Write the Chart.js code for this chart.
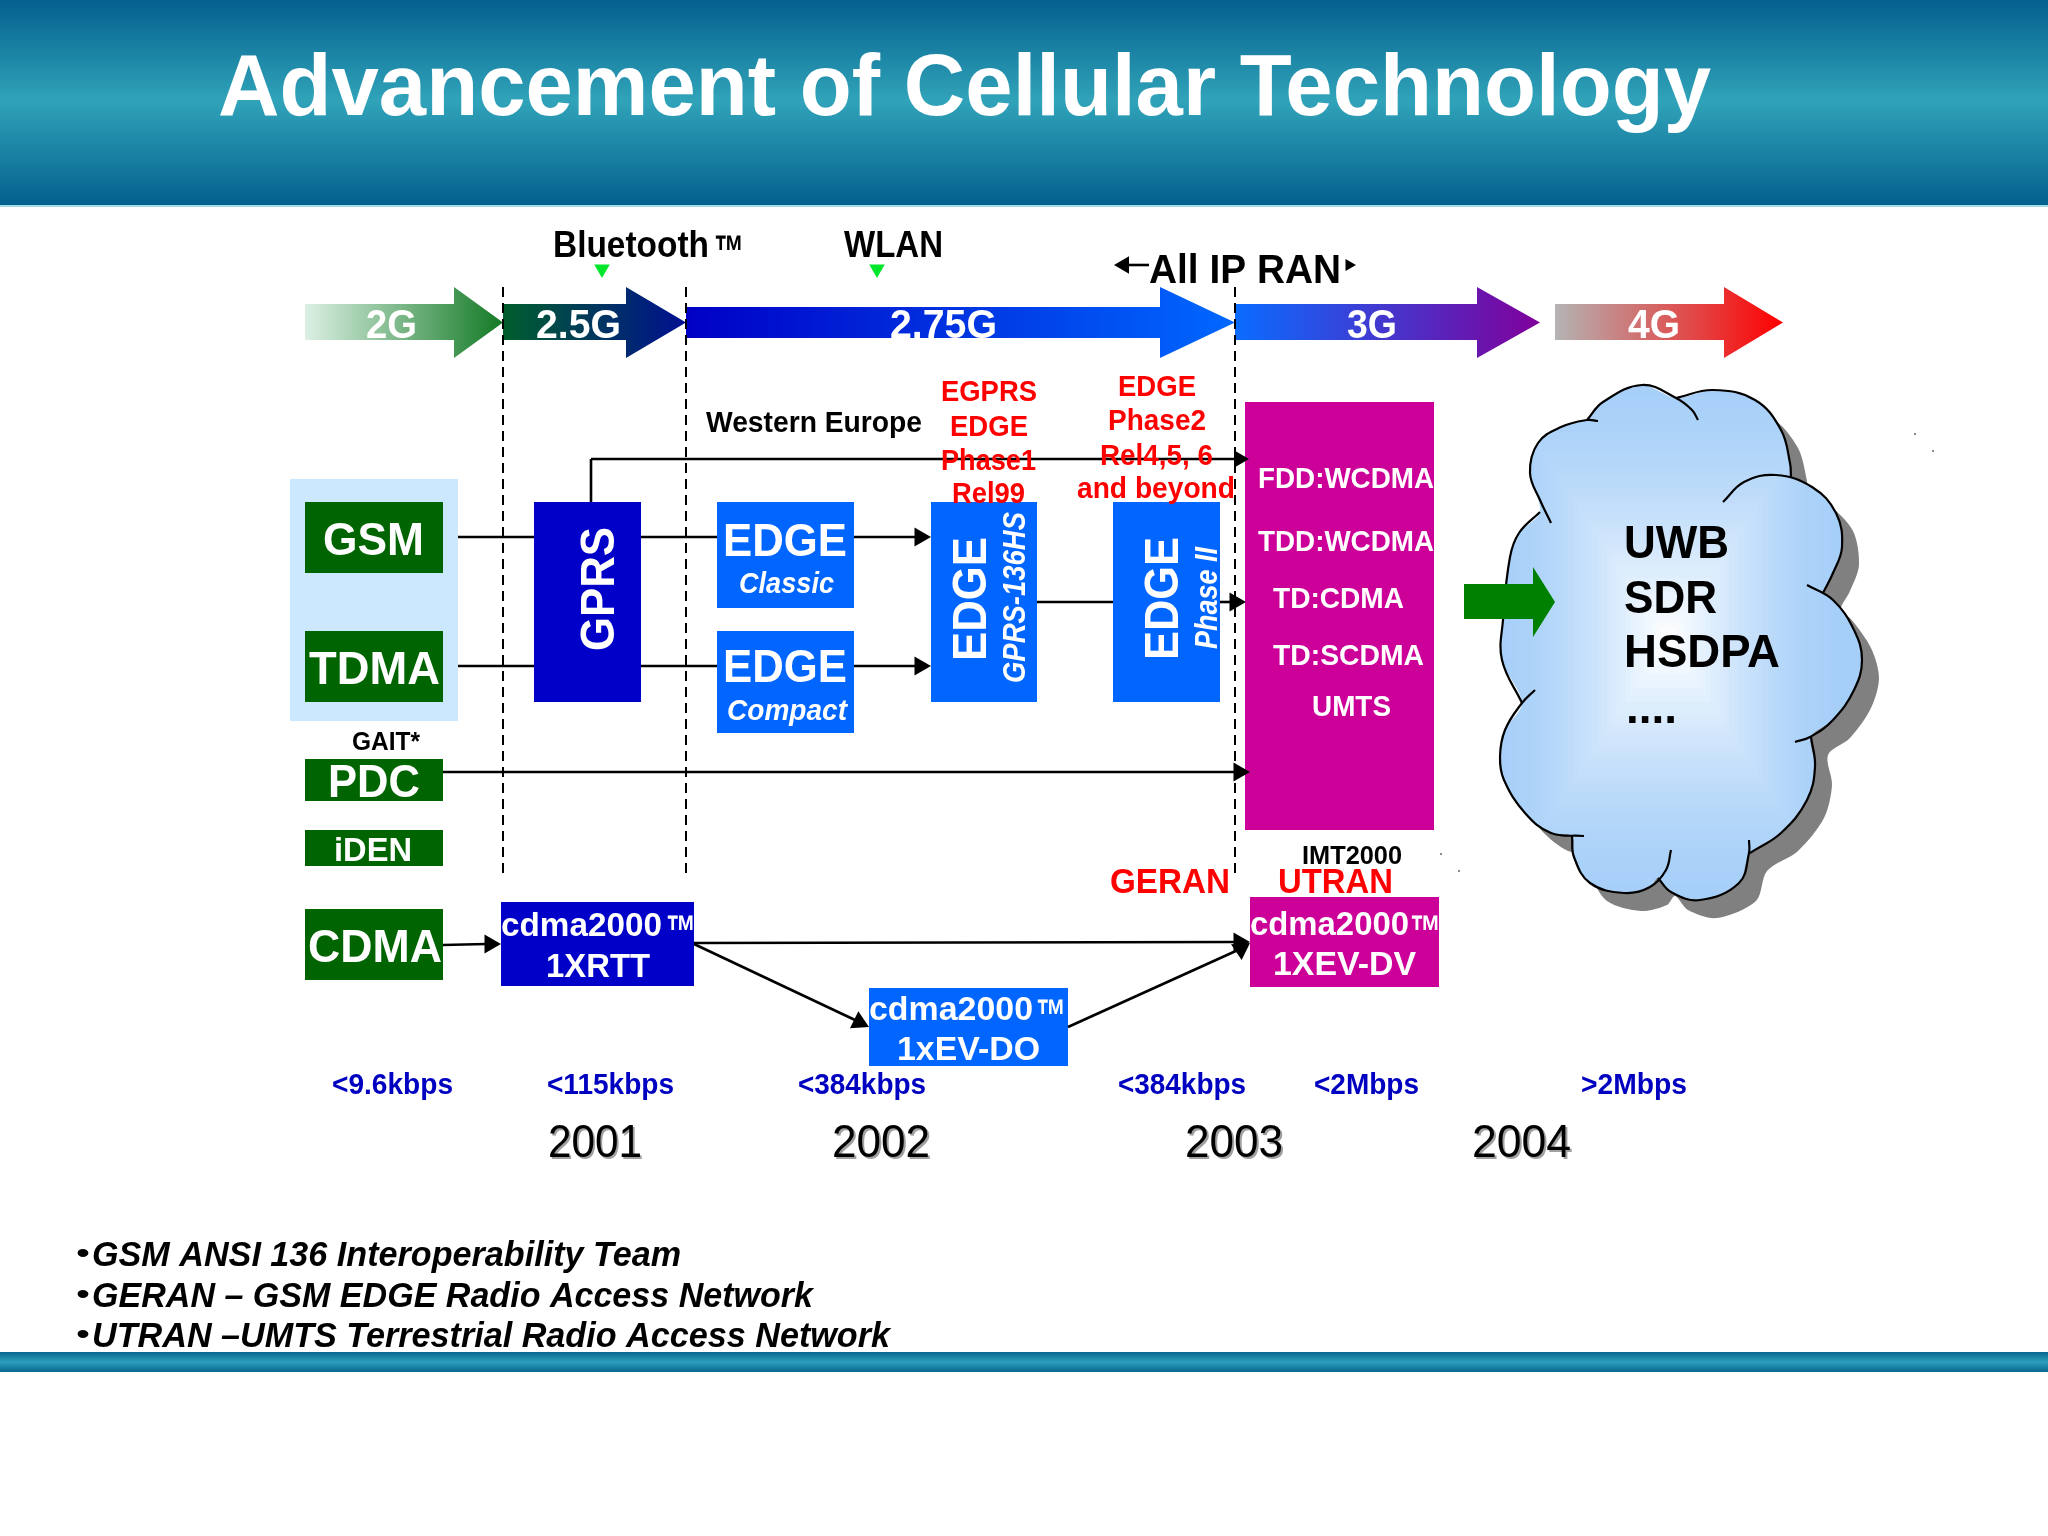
<!DOCTYPE html>
<html>
<head>
<meta charset="utf-8">
<title>Advancement of Cellular Technology</title>
<script src="https://cdn.jsdelivr.net/npm/chart.js@4/dist/chart.umd.min.js"></script>
<style>
  html, body { margin: 0; padding: 0; background: #fff; overflow: hidden; }
  canvas { display: block; }
</style>
</head>
<body>
<canvas id="slide" width="2048" height="1536"></canvas>
<script>
// All positions below are values on the two hidden linear axes (0-2048, 0-1536)

// generation arrows along the top
const eraNames = ['2G', '2.5G', '2.75G', '3G', '4G'];
const eraLeft = [305, 503, 686, 1235, 1555];
const eraHeadBase = [454, 626, 1160, 1477, 1724];
const eraTip = [503, 686, 1235, 1540, 1783];
const eraShaftTop = [304, 304, 307, 304, 304];
const eraShaftBottom = [340, 340, 338, 340, 340];
const eraHeadTop = [287, 287, 287, 287, 287];
const eraHeadBottom = [358, 358, 358, 358, 358];
const eraTextLeft = [366, 536, 890, 1347, 1628];
const eraTextRight = [417, 621, 997, 1397, 1680];
const eraColorFrom = ['#dcf0e4', '#005f2c', '#0000c4', '#0a6cff', '#b4b4b4'];
const eraColorTo = ['#137a25', '#000f90', '#0068ff', '#80009a', '#ff0000'];

// technology boxes
const boxLeft = [290, 305, 305, 305, 305, 305, 534, 717, 717, 931, 1113, 1245, 501, 869, 1250];
const boxRight = [458, 443, 443, 443, 443, 443, 641, 854, 854, 1037, 1220, 1434, 694, 1068, 1439];
const boxTop = [479, 502, 631, 759, 830, 909, 502, 502, 631, 502, 502, 402, 902, 988, 897];
const boxBottom = [721, 573, 702, 801, 866, 980, 702, 608, 733, 702, 702, 830, 986, 1066, 987];
const boxColors = ['#cce8ff', '#006400', '#006400', '#006400', '#006400', '#006400', '#0000c8', '#0066ff',
  '#0066ff', '#0066ff', '#0066ff', '#cc0099', '#0000c8', '#0066ff', '#cc0099'];

// connectors
const wireFromX = [458, 641, 854, 458, 641, 854, 591, 591, 1037, 1220, 443, 443, 694, 694, 1068, 1125];
const wireFromY = [537, 537, 537, 666, 666, 666, 502, 459, 602, 602, 772, 945, 943, 944, 1027, 265];
const wireToX = [534, 717, 915, 534, 717, 915, 591, 1235, 1113, 1232, 1236, 486, 1236, 855, 1238, 1149];
const wireToY = [537, 537, 537, 666, 666, 666, 459, 459, 602, 602, 772, 944, 942, 1020, 950, 265];

// arrow heads, given by the tip and the pointing angle
const headTipX = [931, 931, 1249, 1246, 1250, 501, 869, 1250, 1250, 1114, 1356];
const headTipY = [537, 666, 459, 602, 772, 944, 1027, 942, 943, 265, 265];
const headAngle = [90, 90, 90, 90, 90, 90, 116, 90, 56, 270, 90];
const headSize = [11, 11, 10, 11, 11, 11, 11, 11, 11, 10, 7];

// wireless markers above the arrows
const markerX = [602, 877];
const markerY = [269, 269];

// dashed era separators
const dividerX = [503, 686, 1235];
const dividerTop = [287, 287, 287];
const dividerBottom = [873, 873, 873];

// green arrow into the cloud
const pointerX = [1464, 1533, 1533, 1555, 1533, 1533, 1464];
const pointerY = [584, 584, 567, 602, 637, 619, 619];

// cloud edge, clockwise from the upper left
const cloudEdgeX = [1587, 1603, 1642, 1676, 1713, 1755, 1781, 1790, 1791, 1812, 1836, 1842, 1833, 1823, 1833, 1854,
  1862, 1854, 1833, 1811, 1815, 1807, 1781, 1750, 1739, 1700, 1671, 1658, 1650, 1624, 1590, 1574, 1572, 1551, 1525,
  1504, 1500, 1505, 1522, 1502, 1503, 1510, 1519, 1540, 1530, 1538, 1561];
const cloudEdgeY = [420, 402, 385, 398, 390, 400, 430, 463, 477, 487, 513, 547, 573, 593, 600, 630,
  660, 690, 720, 737, 767, 800, 833, 853, 883, 900, 892, 878, 887, 893, 883, 857, 836, 833, 813,
  780, 757, 730, 703, 660, 620, 557, 533, 512, 473, 443, 427];
const cloudLobesX = [
  [1587, 1603, 1642, 1676, 1692, 1698],
  [1676, 1713, 1755, 1781, 1790, 1791],
  [1723, 1744, 1776, 1812, 1836, 1842, 1833, 1823],
  [1807, 1833, 1854, 1862, 1854, 1833, 1810, 1795],
  [1811, 1815, 1807, 1781, 1750],
  [1749, 1749, 1739, 1700, 1671, 1658],
  [1671, 1666, 1650, 1624, 1590, 1574, 1572],
  [1584, 1551, 1525, 1504, 1500, 1505, 1522, 1535],
  [1522, 1502, 1503, 1510, 1519, 1540],
  [1551, 1540, 1530, 1538, 1561, 1587, 1598]
];
const cloudLobesY = [
  [420, 402, 385, 398, 410, 420],
  [398, 390, 400, 430, 463, 477],
  [502, 482, 475, 487, 513, 547, 573, 593],
  [585, 600, 630, 660, 690, 720, 737, 742],
  [737, 767, 800, 833, 853],
  [840, 853, 883, 900, 892, 878],
  [850, 870, 887, 893, 883, 857, 836],
  [836, 833, 813, 780, 757, 730, 703, 690],
  [703, 660, 620, 557, 533, 512],
  [523, 500, 473, 443, 427, 420, 421]
];
const speckX = [1441, 1459, 1915, 1933];
const speckY = [854, 871, 434, 451];

// texts: string, left edge, right edge, baseline
const mainBoxNames = ['GSM', 'TDMA', 'PDC', 'CDMA', 'EDGE', 'EDGE'];
const mainBoxLeft = [323, 309, 328, 308, 723, 723];
const mainBoxRight = [424, 440, 420, 442, 847, 847];
const mainBoxBase = [555, 684, 797, 962, 556, 682];

const edgeKinds = ['Classic', 'Compact'];
const edgeKindLeft = [739, 727];
const edgeKindRight = [834, 847];
const edgeKindBase = [593, 720];

const upNames = ['GPRS', 'EDGE', 'EDGE'];
const upBase = [614, 986, 1178];
const upBottom = [651, 661, 660];
const upTop = [527, 537, 537];
const upSubNames = ['GPRS-136HS', 'Phase II'];
const upSubBase = [1025, 1217];
const upSubBottom = [683, 649];
const upSubTop = [512, 547];

const airNames = ['FDD:WCDMA', 'TDD:WCDMA', 'TD:CDMA', 'TD:SCDMA', 'UMTS'];
const airLeft = [1258, 1258, 1273, 1273, 1312];
const airRight = [1434, 1434, 1404, 1424, 1391];
const airBase = [488, 551, 608, 665, 716];

const cdmaNames = ['cdma2000', '1XRTT', 'cdma2000', '1xEV-DO', 'cdma2000', '1XEV-DV'];
const cdmaLeft = [501, 546, 869, 897, 1250, 1273];
const cdmaRight = [662, 650, 1033, 1040, 1409, 1416];
const cdmaBase = [936, 977, 1020, 1060, 935, 975];

const trademarkLeft = [714, 666, 1036, 1410];
const trademarkRight = [744, 696, 1066, 1441];
const trademarkBase = [267, 947, 1031, 947];

const releaseNames = ['EGPRS', 'EDGE', 'Phase1', 'Rel99', 'EDGE', 'Phase2', 'Rel4,5, 6', 'and beyond'];
const releaseLeft = [941, 950, 941, 952, 1118, 1108, 1100, 1077];
const releaseRight = [1037, 1028, 1036, 1025, 1196, 1206, 1213, 1235];
const releaseBase = [401, 436, 470, 503, 396, 430, 465, 498];

const ranNames = ['GERAN', 'UTRAN'];
const ranLeft = [1110, 1278];
const ranRight = [1230, 1393];
const ranBase = [893, 893];

const cloudNames = ['UWB', 'SDR', 'HSDPA', '....'];
const cloudTextLeft = [1624, 1624, 1624, 1626];
const cloudTextRight = [1729, 1717, 1780, 1677];
const cloudTextBase = [558, 613, 667, 723];

const speedLabels = ['<9.6kbps', '<115kbps', '<384kbps', '<384kbps', '<2Mbps', '>2Mbps'];
const speedLeft = [332, 547, 798, 1118, 1314, 1581];
const speedRight = [453, 674, 926, 1246, 1419, 1687];
const speedBase = [1094, 1094, 1094, 1094, 1094, 1094];

const yearLabels = ['2001', '2002', '2003', '2004'];
const yearLeft = [548, 832, 1185, 1472];
const yearRight = [642, 930, 1283, 1571];
const yearBase = [1157, 1157, 1157, 1157];

const noteLines = ['GSM ANSI 136 Interoperability Team', 'GERAN \u2013 GSM EDGE Radio Access Network',
  'UTRAN \u2013UMTS Terrestrial Radio Access Network'];
const noteRight = [681, 813, 890];
const noteBase = [1266, 1307, 1347];

const FONT = '"Liberation Sans", Arial, sans-serif';
const canvas = document.getElementById('slide');
const ctx = canvas.getContext('2d');

function horizontalGradient(x0, x1, from, to) {
    const g = ctx.createLinearGradient(x0, 0, x1, 0);
    g.addColorStop(0, from);
    g.addColorStop(1, to);
    return g;
}

function bandGradient(y0, y1, edge, middle, midStop) {
    const g = ctx.createLinearGradient(0, y0, 0, y1);
    g.addColorStop(0, edge);
    g.addColorStop(midStop, middle);
    g.addColorStop(1, edge);
    return g;
}

// the cloud has a rectangular path gradient, so paint it into a pattern
function cloudPattern() {
    const off = document.createElement('canvas');
    off.width = 2048;
    off.height = 1536;
    const o = off.getContext('2d');
    o.fillStyle = 'rgb(166,207,248)';
    o.fillRect(0, 0, 2048, 1536);
    const steps = 36;
    for (let i = 0; i <= steps; i++) {
        const t = 1 - i / steps;
        const mix = Math.pow(1 - t, 1.6);
        const r = Math.round(166 + (255 - 166) * mix);
        const g = Math.round(207 + (255 - 207) * mix);
        const b = Math.round(248 + (255 - 248) * mix);
        o.fillStyle = `rgb(${r},${g},${b})`;
        const hw = 172 * t + 4;
        const hh = 262 * t + 4;
        o.fillRect(1668 - hw, 640 - hh, hw * 2, hh * 2);
    }
    return ctx.createPattern(off, 'no-repeat');
}

function toPoints(xs, ys) {
    return xs.map((x, i) => ({ x: x, y: ys[i] }));
}

const datasets = [];

function addShape(xs, ys, fillColor, tension) {
    datasets.push({
        data: toPoints(xs, ys),
        backgroundColor: fillColor,
        borderWidth: 0,
        borderColor: 'transparent',
        fill: 'shape',
        pointRadius: 0,
        tension: tension || 0
    });
}

function addLine(xs, ys, width, dash, tension) {
    datasets.push({
        data: toPoints(xs, ys),
        borderColor: '#000',
        borderWidth: width,
        borderDash: dash || [],
        fill: false,
        pointRadius: 0,
        tension: tension || 0
    });
}

// slide furniture
addShape([0, 2048, 2048, 0], [0, 0, 205, 205], bandGradient(0, 205, '#04608e', '#30a3b9', 0.49));
addShape([0, 2048, 2048, 0], [205, 205, 207, 207], '#a5dbe8');
addShape([0, 2048, 2048, 0], [1352, 1352, 1372, 1372], bandGradient(1352, 1372, '#0a6690', '#2c9ebb', 0.5));

boxLeft.forEach((left, i) => {
    addShape([left, boxRight[i], boxRight[i], left], [boxTop[i], boxTop[i], boxBottom[i], boxBottom[i]], boxColors[i]);
});

eraNames.forEach((name, i) => {
    addShape(
        [eraLeft[i], eraHeadBase[i], eraHeadBase[i], eraTip[i], eraHeadBase[i], eraHeadBase[i], eraLeft[i]],
        [eraShaftTop[i], eraShaftTop[i], eraHeadTop[i], (eraHeadTop[i] + eraHeadBottom[i]) / 2, eraHeadBottom[i], eraShaftBottom[i], eraShaftBottom[i]],
        horizontalGradient(eraLeft[i], eraTip[i], eraColorFrom[i], eraColorTo[i])
    );
});

// cloud: shadow, body, then the lobe outlines
addShape(cloudEdgeX.map(x => x + 17), cloudEdgeY.map(y => y + 18), '#808080', 0.3);
addShape(cloudEdgeX, cloudEdgeY, cloudPattern(), 0.3);
cloudLobesX.forEach((xs, i) => addLine(xs, cloudLobesY[i], 2.2, [], 0.4));

dividerX.forEach((x, i) => addLine([x, x], [dividerTop[i], dividerBottom[i]], 2, [10, 6]));
wireFromX.forEach((x, i) => addLine([x, wireToX[i]], [wireFromY[i], wireToY[i]], 2.6));

addShape(pointerX, pointerY, '#008000');

datasets.push({
    data: toPoints(headTipX.map((x, i) => x - Math.sin(headAngle[i] * Math.PI / 180) * headSize[i]),
        headTipY.map((y, i) => y + Math.cos(headAngle[i] * Math.PI / 180) * headSize[i])),
    showLine: false,
    pointStyle: 'triangle',
    pointRadius: headSize,
    pointRotation: headAngle,
    pointBackgroundColor: '#000',
    pointBorderWidth: 0
});
datasets.push({
    data: toPoints(markerX, markerY),
    showLine: false,
    pointStyle: 'triangle',
    pointRadius: 9,
    pointRotation: 180,
    pointBackgroundColor: '#00e62a',
    pointBorderWidth: 0
});
datasets.push({
    data: toPoints(speckX, speckY),
    showLine: false,
    pointRadius: 1,
    pointBackgroundColor: '#666',
    pointBorderWidth: 0
});

// chart.js paints index 0 last, so flip it to paint in the order pushed above
datasets.forEach((d, i) => { d.order = -i; });

const texts = [];

function addTexts(names, lefts, rights, bases, font, color, shadow) {
    names.forEach((s, i) => {
        texts.push({ s: s, a: lefts[i], b: rights[i], base: bases[i], font: font, color: color, shadow: shadow });
    });
}

function addUpTexts(names, bases, bottoms, tops, font, color) {
    names.forEach((s, i) => {
        texts.push({ s: s, a: bottoms[i], b: tops[i], base: bases[i], font: font, color: color, up: true });
    });
}

addTexts(['Advancement of Cellular Technology'], [218], [1711], [115], `bold 88px ${FONT}`, '#fff');
addTexts(eraNames, eraTextLeft, eraTextRight, eraNames.map(() => 338), `bold 40px ${FONT}`, '#fff');
addTexts(['Bluetooth', 'WLAN'], [553, 844], [709, 943], [257, 257], `bold 36px ${FONT}`, '#000');
addTexts(['All IP RAN'], [1149], [1341], [283], `bold 40px ${FONT}`, '#000');
addTexts(['Western Europe'], [706], [922], [432], `bold 30px ${FONT}`, '#000');
addTexts(releaseNames, releaseLeft, releaseRight, releaseBase, `bold 30px ${FONT}`, '#f00');
addTexts(mainBoxNames, mainBoxLeft, mainBoxRight, mainBoxBase, `bold 47px ${FONT}`, '#fff');
addTexts(['iDEN'], [334], [412], [861], `bold 34px ${FONT}`, '#fff');
addTexts(['GAIT*'], [352], [420], [750], `bold 25px ${FONT}`, '#000');
addTexts(edgeKinds, edgeKindLeft, edgeKindRight, edgeKindBase, `italic bold 30px ${FONT}`, '#fff');
addUpTexts(upNames, upBase, upBottom, upTop, `bold 48px ${FONT}`, '#fff');
addUpTexts(upSubNames, upSubBase, upSubBottom, upSubTop, `italic bold 31px ${FONT}`, '#fff');
addTexts(airNames, airLeft, airRight, airBase, `bold 30px ${FONT}`, '#fff');
addTexts(cdmaNames, cdmaLeft, cdmaRight, cdmaBase, `bold 34px ${FONT}`, '#fff');
addTexts(['\u2122'], trademarkLeft.slice(0, 1), trademarkRight.slice(0, 1), trademarkBase.slice(0, 1), `bold 46px ${FONT}`, '#000');
addTexts(['\u2122', '\u2122', '\u2122'], trademarkLeft.slice(1), trademarkRight.slice(1), trademarkBase.slice(1), `bold 46px ${FONT}`, '#fff');
addTexts(['IMT2000'], [1302], [1402], [864], `bold 26px ${FONT}`, '#000');
addTexts(ranNames, ranLeft, ranRight, ranBase, `bold 35px ${FONT}`, '#f00');
addTexts(cloudNames, cloudTextLeft, cloudTextRight, cloudTextBase, `bold 46px ${FONT}`, '#000');
addTexts(speedLabels, speedLeft, speedRight, speedBase, `bold 29px ${FONT}`, '#0000c0');
addTexts(yearLabels, yearLeft, yearRight, yearBase, `46px ${FONT}`, '#000', true);
addTexts(noteLines, noteLines.map(() => 92), noteRight, noteBase, `italic bold 35px ${FONT}`, '#000');
addTexts(['\u2022', '\u2022', '\u2022'], [76, 76, 76], [90, 90, 90], [1263, 1304, 1344], `30px ${FONT}`, '#000');

// draws every label through the axes, stretched slightly to the width
const labelPlugin = {
    id: 'slideLabels',
    afterDatasetsDraw(chart) {
        const c = chart.ctx;
        const sx = chart.scales.x;
        const sy = chart.scales.y;
        texts.forEach(t => {
            c.save();
            c.font = t.font;
            c.textBaseline = 'alphabetic';
            const natural = c.measureText(t.s).width;
            if (t.up) {
                c.translate(sx.getPixelForValue(t.base), sy.getPixelForValue(t.a));
                c.rotate(-Math.PI / 2);
                c.scale((sy.getPixelForValue(t.a) - sy.getPixelForValue(t.b)) / natural, 1);
            } else {
                c.translate(sx.getPixelForValue(t.a), sy.getPixelForValue(t.base));
                c.scale((sx.getPixelForValue(t.b) - sx.getPixelForValue(t.a)) / natural, 1);
            }
            if (t.shadow) {
                c.fillStyle = '#a0a0a0';
                c.fillText(t.s, 2, 2);
            }
            c.fillStyle = t.color;
            c.fillText(t.s, 0, 0);
            c.restore();
        });
    }
};

new Chart(ctx, {
    type: 'line',
    data: { datasets: datasets },
    options: {
        responsive: false,
        animation: false,
        devicePixelRatio: 1,
        parsing: { xAxisKey: 'x', yAxisKey: 'y' },
        layout: { padding: 0, autoPadding: false },
        plugins: { legend: { display: false }, tooltip: { enabled: false } },
        events: [],
        scales: {
            x: { type: 'linear', display: false, min: 0, max: 2048 },
            y: { type: 'linear', display: false, min: 0, max: 1536, reverse: true }
        }
    },
    plugins: [labelPlugin]
});
</script>
</body>
</html>
